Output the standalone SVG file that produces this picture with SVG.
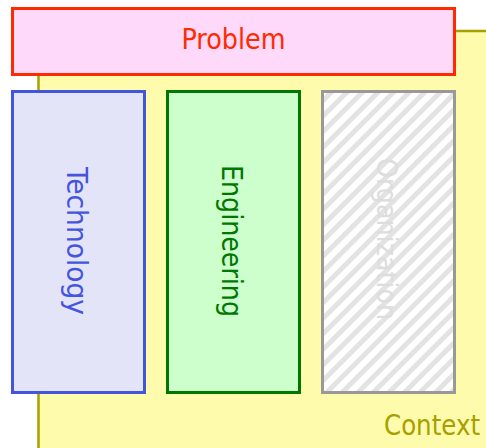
<svg xmlns="http://www.w3.org/2000/svg" width="486" height="448" viewBox="0 0 486 448">
<defs>
<pattern id="stripes" patternUnits="userSpaceOnUse" width="11" height="11" patternTransform="rotate(45)">
<rect width="11" height="11" fill="#ffffff"/>
<rect x="0" y="0" width="5" height="11" fill="#e3e3e3"/>
</pattern>
<style>
text{font-family:"DejaVu Sans Condensed","DejaVu Sans",sans-serif;font-size:29px;text-anchor:middle}
.box{stroke-width:3}
</style>
</defs>
<g id="context">
<rect x="38.5" y="31" width="460" height="430" fill="#fffbad" stroke="#a6a000" stroke-width="2.5"/>
<text x="432" y="435" fill="#a6a000" textLength="96" lengthAdjust="spacingAndGlyphs">Context</text>
</g>
<g id="problem">
<rect class="box" x="12.5" y="8.5" width="442" height="66" fill="#ffd9fa" stroke="#ff2a00"/>
<text x="233.5" y="49" fill="#ff2a00" textLength="104" lengthAdjust="spacingAndGlyphs">Problem</text>
</g>
<g id="technology">
<rect class="box" x="12.5" y="91.5" width="132" height="301" fill="#e3e4f8" stroke="#4455dd"/>
<text transform="translate(67,241) rotate(90)" fill="#4455dd" textLength="148" lengthAdjust="spacingAndGlyphs">Technology</text>
</g>
<g id="engineering">
<rect class="box" x="167.5" y="91.5" width="132" height="301" fill="#ccffcc" stroke="#007700"/>
<text transform="translate(222,241) rotate(90)" fill="#007700" textLength="152" lengthAdjust="spacingAndGlyphs">Engineering</text>
</g>
<g id="organization">
<rect class="box" x="322.5" y="91.5" width="132" height="301" fill="url(#stripes)" stroke="#999999"/>
<text transform="translate(377,239) rotate(90)" fill="#dddddd" textLength="162" lengthAdjust="spacingAndGlyphs">Organization</text>
</g>
<g id="connectors"/>
</svg>
